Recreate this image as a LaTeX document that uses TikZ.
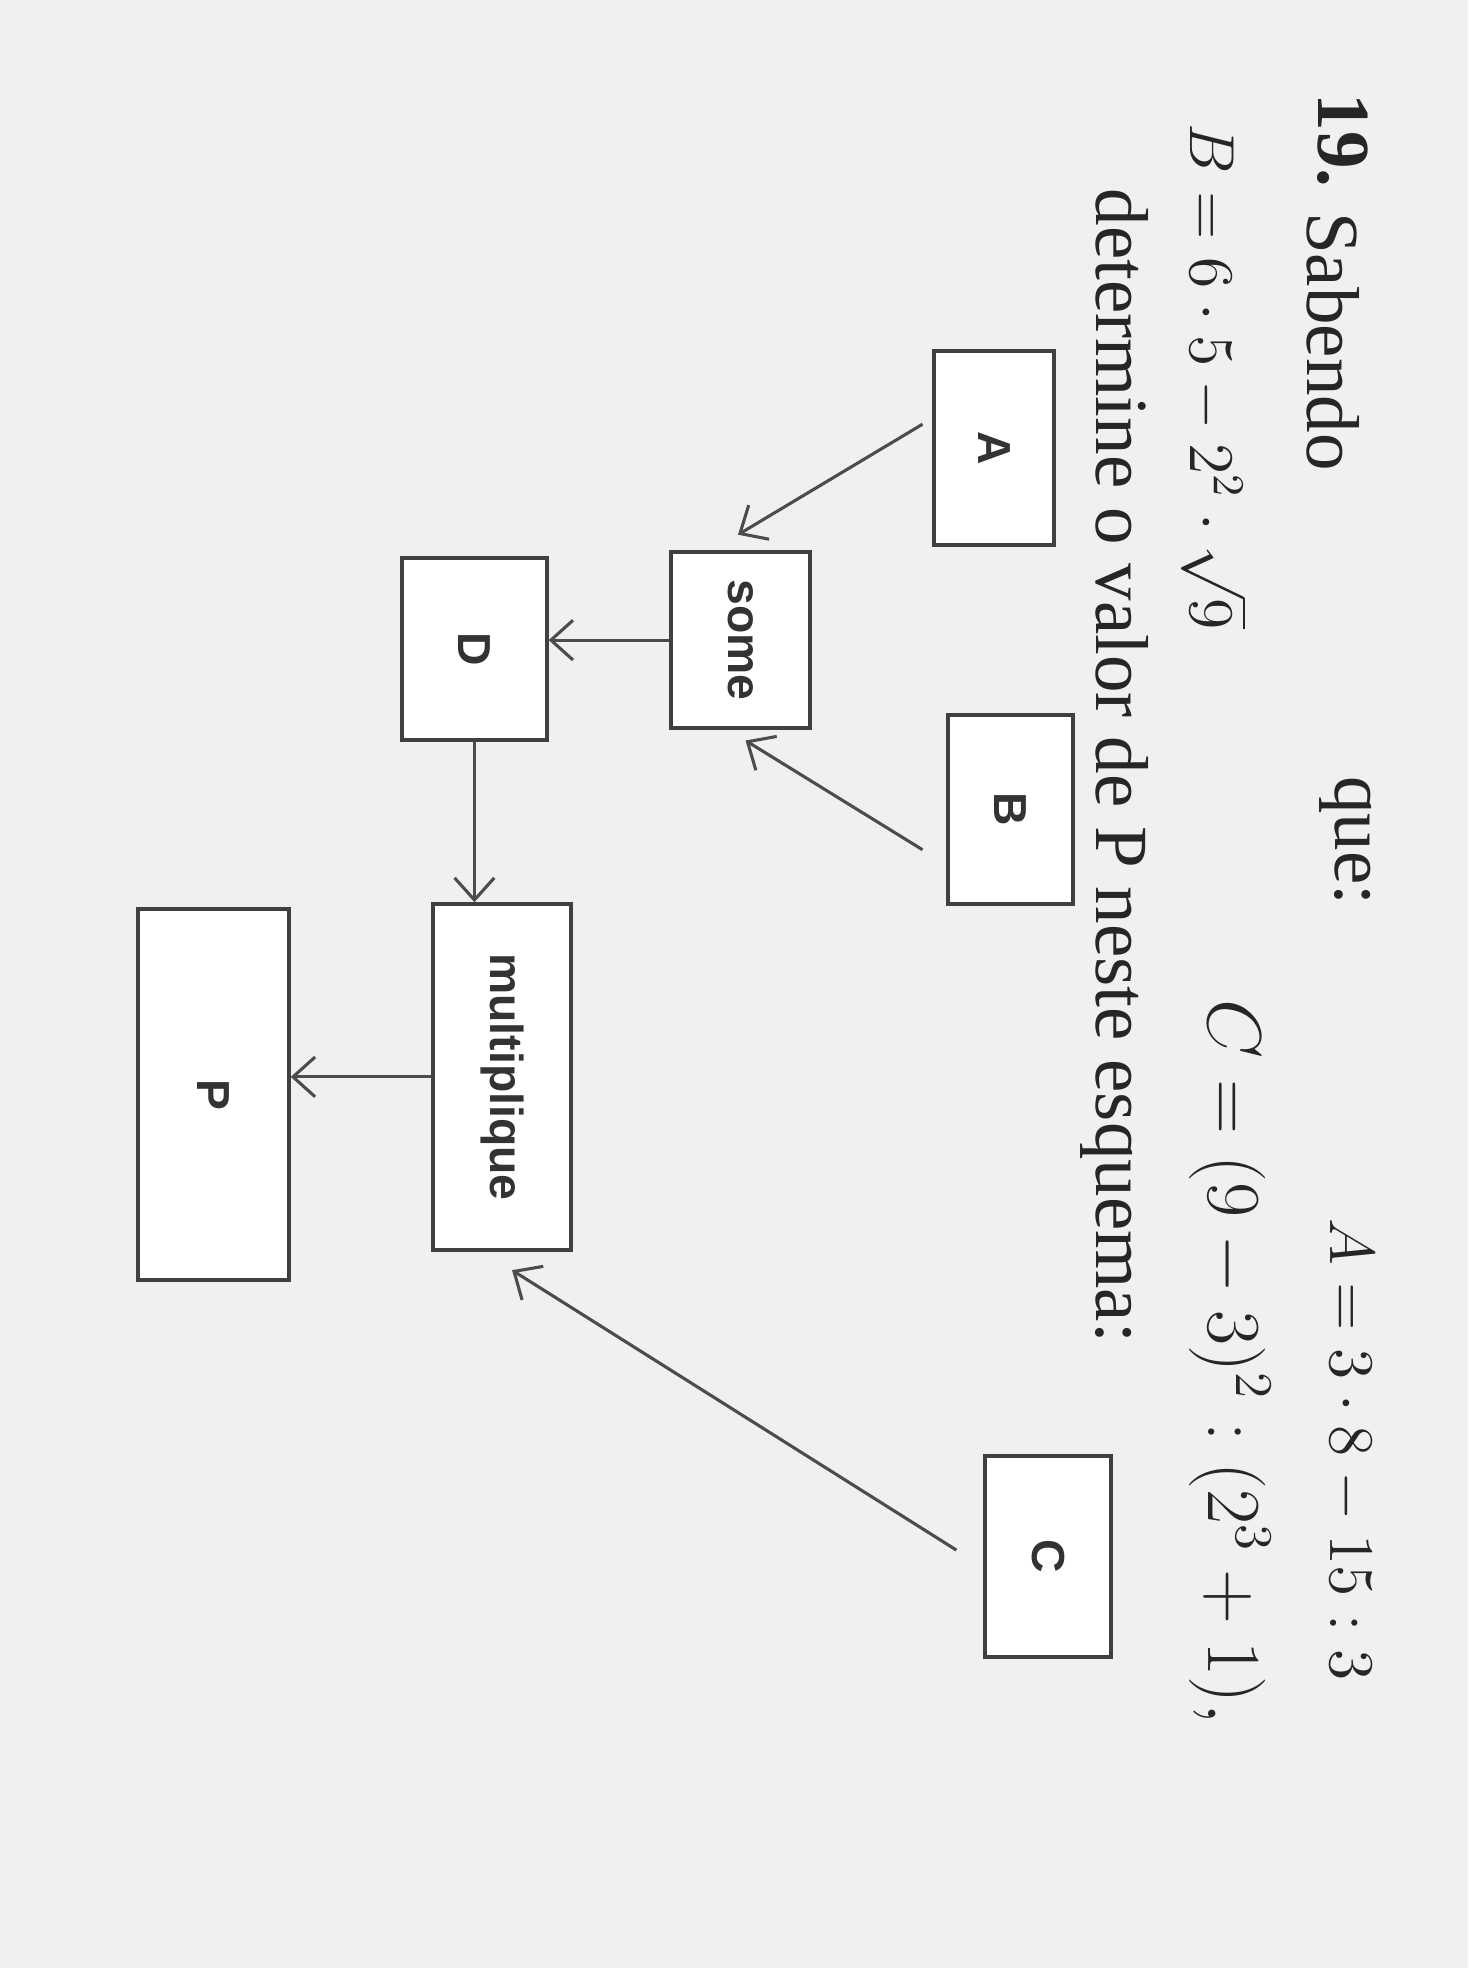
\documentclass[tikz,border=0pt]{standalone}
\usepackage{fontspec}
\setmainfont{Liberation Serif}
\newfontfamily\boxfont{Liberation Sans}
\usetikzlibrary{arrows.meta}
\begin{document}
\begin{tikzpicture}[x=0.01cm,y=-0.01cm,
  bx/.style={draw=black!75,line width=0.9pt,fill=white,inner sep=0pt,rotate=-90,font=\boxfont\bfseries\fontsize{10.5}{12}\selectfont,text=black!80},
  hd/.style={rotate=-90,font=\fontsize{17}{19}\selectfont,text=black!85},
  hds/.style={rotate=-90,font=\fontsize{14}{16}\selectfont,text=black!85},
  ar/.style={draw=black!70,line width=0.7pt,-{Straight Barb[length=5pt,width=9pt]}}]
\fill[gray!12] (0,0) rectangle (1170,1568);
\useasboundingbox (0,0) rectangle (1170,1568);
\node[hd] at (1070,112) {\textbf{19.}};
\node[hd] at (1062,272) {Sabendo};
\node[hd] at (1072,670) {que:};
\node[hds] at (1075,1155) {$A=3\cdot8-15:3$};
\node[hds] at (968,300) {$B=6\cdot5-2^2\cdot\sqrt{9}$};
\node[hd] at (980,1085) {$C=(9-3)^2:(2^3+1),$};
\node[hd] at (888,610) {determine o valor de P neste esquema:};
\node[bx,minimum width=1.55cm,minimum height=0.95cm] (A) at (792,357) {A};
\node[bx,minimum width=1.4cm,minimum height=1.1cm] (S) at (590,510) {some};
\node[bx,minimum width=1.5cm,minimum height=1.0cm] (B) at (805,645) {B};
\node[bx,minimum width=1.45cm,minimum height=1.15cm] (D) at (378,517) {D};
\node[bx,minimum width=2.75cm,minimum height=1.1cm] (M) at (400,858) {multiplique};
\node[bx,minimum width=1.6cm,minimum height=1.0cm] (C) at (835,1240) {C};
\node[bx,minimum width=2.95cm,minimum height=1.2cm] (P) at (170,872) {P};
\coordinate (a1) at (735,338); \coordinate (a2) at (588,426);
\draw[ar] (a1) -- (a2);
\coordinate (b1) at (735,677); \coordinate (b2) at (594,590);
\draw[ar] (b1) -- (b2);
\draw[ar] (S.south) -- (D.north |- S.south);
\draw[ar] (D.east) -- (M.west -| D.east);
\coordinate (c1) at (762,1235); \coordinate (c2) at (408,1012);
\draw[ar] (c1) -- (c2);
\draw[ar] (M.south) -- (P.north |- M.south);
\end{tikzpicture}
\end{document}
